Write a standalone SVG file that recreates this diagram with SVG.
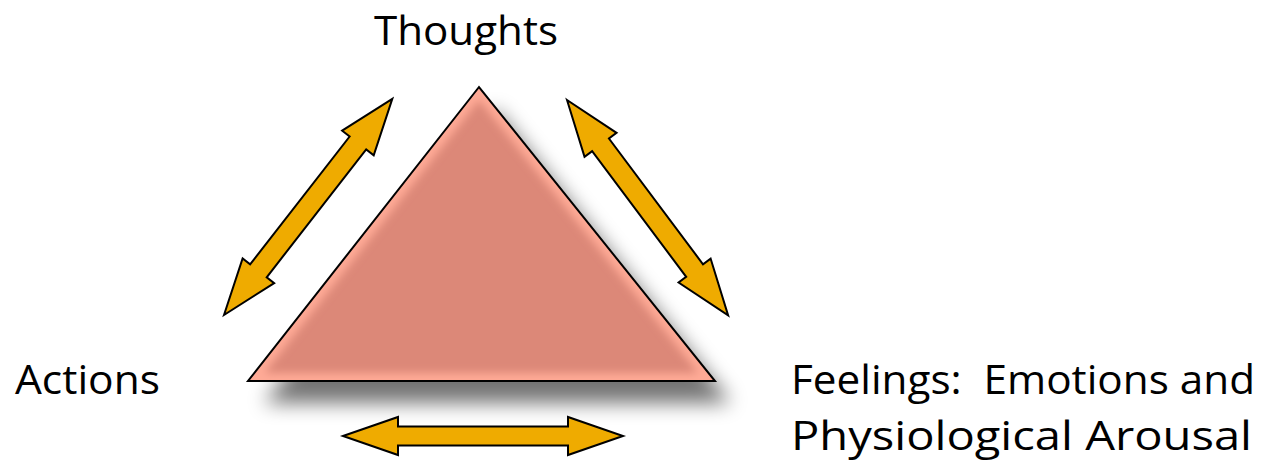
<svg xmlns="http://www.w3.org/2000/svg" width="1264" height="465" viewBox="0 0 1264 465">
  <style>
    .lbl { font-family: "Open Sans", "Liberation Sans", sans-serif; fill: #000; font-size: 41px; }
    .arrow { fill: #EFAB00; stroke: #000; stroke-width: 2; stroke-linejoin: miter; }
  </style>
  <defs>
    <filter id="shadow" x="-20%" y="-20%" width="150%" height="160%">
      <feGaussianBlur in="SourceAlpha" stdDeviation="10"/>
      <feOffset dx="16" dy="22" result="b"/>
      <feComponentTransfer><feFuncA type="linear" slope="0.55"/></feComponentTransfer>
      <feMerge><feMergeNode/><feMergeNode in="SourceGraphic"/></feMerge>
    </filter>
    <filter id="glowblur" x="-20%" y="-20%" width="140%" height="140%">
      <feGaussianBlur stdDeviation="4"/>
    </filter>
    <clipPath id="triclip">
      <polygon points="479,87 248,381 715,381"/>
    </clipPath>
  </defs>

  <g id="triangle">
    <polygon points="479,87 248,381 715,381" fill="#DC8878" filter="url(#shadow)"/>
    <g clip-path="url(#triclip)">
      <polygon points="479,87 248,381 715,381" fill="none" stroke="#FFAA96" stroke-width="16" filter="url(#glowblur)"/>
    </g>
    <polygon points="479,87 248,381 715,381" fill="none" stroke="#000" stroke-width="2"/>
  </g>

  <g id="connectors">
    <path class="arrow" transform="translate(224,315) rotate(-52.1)" d="M0,0 L56,-20 L56,-10.5 L218,-10.5 L218,-20 L274,0 L218,20 L218,10.5 L56,10.5 L56,20 Z"/>
    <path class="arrow" transform="translate(567,100) rotate(53.2)" d="M0,0 L56,-20 L56,-10.5 L213,-10.5 L213,-20 L269,0 L213,20 L213,10.5 L56,10.5 L56,20 Z"/>
    <path class="arrow" transform="translate(343,436)" d="M0,0 L55,-19 L55,-9.5 L225,-9.5 L225,-19 L280,0 L225,19 L225,9.5 L55,9.5 L55,19 Z"/>
  </g>

  <g id="thoughts">
    <text class="lbl" x="374" y="45" textLength="184" lengthAdjust="spacingAndGlyphs">Thoughts</text>
  </g>
  <g id="actions">
    <text class="lbl" x="15" y="394" textLength="145" lengthAdjust="spacingAndGlyphs">Actions</text>
  </g>
  <g id="feelings">
    <text class="lbl" x="791" y="394" xml:space="preserve" textLength="464" lengthAdjust="spacingAndGlyphs">Feelings:  Emotions and</text>
    <text class="lbl" x="791" y="450" textLength="461" lengthAdjust="spacingAndGlyphs">Physiological Arousal</text>
  </g>
</svg>
